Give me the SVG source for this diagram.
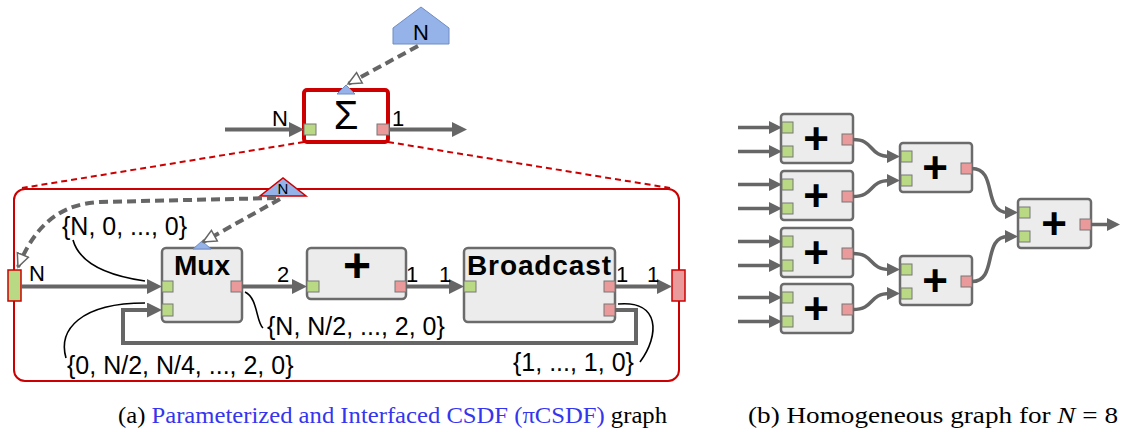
<svg xmlns="http://www.w3.org/2000/svg" width="1123" height="432" viewBox="0 0 1123 432">
<style>
.t{font-family:"Liberation Sans",Arial,sans-serif;fill:#000}
.lbl{font-size:22px}
.rate{font-size:25px}
.ttl{font-size:28px;font-weight:bold;text-anchor:middle}
.plusA{font-size:48px;font-weight:bold;text-anchor:middle}
.plusB{font-size:44px;font-weight:bold;text-anchor:middle}
.box{fill:#ececec;stroke:#6b6b6b;stroke-width:2.5}
.pin{fill:#bad984;stroke:#777;stroke-width:1}
.pout{fill:#ea9a9a;stroke:#777;stroke-width:1}
.edge{fill:none;stroke:#666;stroke-width:4;stroke-linejoin:miter}
.edgeB{fill:none;stroke:#666;stroke-width:3.5}
.dash{fill:none;stroke:#666;stroke-width:4;stroke-dasharray:9 5}
.note{fill:none;stroke:#000;stroke-width:1.6}
.reddash{fill:none;stroke:#cc0000;stroke-width:2;stroke-dasharray:6 4}
.param{fill:#95b3e9;stroke:#6f8cc2;stroke-width:1}
.cap{font-family:"Liberation Serif","Times New Roman",serif;font-size:24px;fill:#000}
</style>
<defs>
<marker id="ah" viewBox="0 0 15 15" refX="5" refY="7.5" markerWidth="15" markerHeight="15" markerUnits="userSpaceOnUse" orient="auto"><path d="M0,0 L15,7.5 L0,15 z" fill="#666"/></marker>
<marker id="ahs" viewBox="0 0 13 13" refX="3" refY="6.5" markerWidth="13" markerHeight="13" markerUnits="userSpaceOnUse" orient="auto"><path d="M0,0 L13,6.5 L0,13 z" fill="#666"/></marker>
<marker id="hollow" viewBox="0 0 16 16" refX="14" refY="8" markerWidth="16" markerHeight="16" markerUnits="userSpaceOnUse" orient="auto"><path d="M1,2 L14,8 L1,14 z" fill="#fff" stroke="#666" stroke-width="1.5"/></marker>
</defs>
<rect width="1123" height="432" fill="#fff"/>

<!-- (a) top-level Sigma actor -->
<g id="param-N-top">
<polygon class="param" points="393,28 421,7 449,28 449,44 393,44" stroke="#7d8fb0"/>
<text class="t" x="421" y="40" font-size="22" text-anchor="middle">N</text>
</g>
<g id="sigma">
<rect x="304" y="90" width="84" height="52" rx="3" fill="#fff" stroke="#cc0000" stroke-width="4"/>
<polygon class="param" points="337,94 355,94 346,85"/>
<text class="t" x="346" y="129" font-size="40" text-anchor="middle">Σ</text>
<rect class="pin" x="304" y="124" width="12" height="11"/>
<rect class="pout" x="377" y="124" width="12" height="11"/>
</g>

<!-- (a) sub-graph frame -->
<g id="subgraph">
<rect x="14" y="189" width="665" height="192" rx="11" fill="none" stroke="#cc0000" stroke-width="2"/>
<rect x="8" y="270" width="13" height="31" fill="#bad984" stroke="#cc0000" stroke-width="1.5"/>
<rect x="672" y="270" width="13" height="31" fill="#ea9a9a" stroke="#cc0000" stroke-width="1.5"/>
</g>
<g id="param-N-if">
<polygon points="260,196 306,196 283,178" fill="#95b3e9" stroke="#cc0000" stroke-width="1.5"/>
<text class="t" x="283" y="194" font-size="15" text-anchor="middle">N</text>
</g>

<g id="mux">
<rect class="box" x="162" y="248" width="80" height="74" rx="4"/>
<polygon class="param" points="193,249 211,249 202,241"/>
<text class="t ttl" x="202" y="275" font-size="29">Mux</text>
<rect class="pin" x="162" y="281" width="11" height="11"/>
<rect class="pin" x="162" y="304" width="11" height="12"/>
<rect class="pout" x="231" y="281" width="11" height="11"/>
</g>
<g id="add">
<rect class="box" x="307" y="248" width="99" height="51" rx="4"/>
<text class="t plusA" x="357" y="282">+</text>
<rect class="pin" x="307" y="281" width="12" height="11"/>
<rect class="pout" x="395" y="281" width="11" height="11"/>
</g>
<g id="broadcast">
<rect class="box" x="464" y="248" width="151" height="74" rx="4"/>
<text class="t ttl" x="539" y="275" textLength="144">Broadcast</text>
<rect class="pin" x="464" y="281" width="12" height="11"/>
<rect class="pout" x="604" y="281" width="11" height="11"/>
<rect class="pout" x="604" y="304" width="11" height="12"/>
</g>

<!-- (b) homogeneous graph -->
<g id="b-add-1"><rect class="box" x="781" y="114" width="72" height="49" rx="3"/><rect class="pin" x="782" y="122" width="11" height="11"/><rect class="pin" x="782" y="146" width="11" height="11"/><rect class="pout" x="842" y="134" width="11" height="11"/><text class="t plusB" x="816" y="154">+</text></g>
<g id="b-add-2"><rect class="box" x="781" y="171" width="72" height="49" rx="3"/><rect class="pin" x="782" y="179" width="11" height="11"/><rect class="pin" x="782" y="203" width="11" height="11"/><rect class="pout" x="842" y="191" width="11" height="11"/><text class="t plusB" x="816" y="211">+</text></g>
<g id="b-add-3"><rect class="box" x="781" y="228" width="72" height="49" rx="3"/><rect class="pin" x="782" y="236" width="11" height="11"/><rect class="pin" x="782" y="260" width="11" height="11"/><rect class="pout" x="842" y="248" width="11" height="11"/><text class="t plusB" x="816" y="268">+</text></g>
<g id="b-add-4"><rect class="box" x="781" y="284" width="72" height="49" rx="3"/><rect class="pin" x="782" y="292" width="11" height="11"/><rect class="pin" x="782" y="316" width="11" height="11"/><rect class="pout" x="842" y="304" width="11" height="11"/><text class="t plusB" x="816" y="324">+</text></g>
<g id="b-add-5"><rect class="box" x="900" y="143" width="72" height="49" rx="3"/><rect class="pin" x="901" y="151" width="11" height="11"/><rect class="pin" x="901" y="175" width="11" height="11"/><rect class="pout" x="961" y="163" width="11" height="11"/><text class="t plusB" x="935" y="183">+</text></g>
<g id="b-add-6"><rect class="box" x="900" y="256" width="72" height="49" rx="3"/><rect class="pin" x="901" y="264" width="11" height="11"/><rect class="pin" x="901" y="288" width="11" height="11"/><rect class="pout" x="961" y="276" width="11" height="11"/><text class="t plusB" x="935" y="296">+</text></g>
<g id="b-add-7"><rect class="box" x="1018" y="199" width="73" height="49" rx="3"/><rect class="pin" x="1019" y="207" width="11" height="11"/><rect class="pin" x="1019" y="231" width="11" height="11"/><rect class="pout" x="1080" y="219" width="11" height="11"/><text class="t plusB" x="1054" y="239">+</text></g>

<g id="connectors">
<path class="reddash" d="M304 142 L22 188"/>
<path class="reddash" d="M388 142 L670 188"/>
<path class="dash" d="M418 46 L348 84" marker-end="url(#hollow)"/>
<path class="dash" d="M280 199 L203 242" marker-end="url(#hollow)"/>
<path class="dash" d="M276 198 L100 202 C60 204 35 225 18 267" marker-end="url(#hollow)"/>
<path class="edge" d="M225 129.5 H294" marker-end="url(#ah)"/>
<path class="edge" d="M389 129.5 H457" marker-end="url(#ah)"/>
<path class="edge" d="M21 286.5 H152" marker-end="url(#ah)"/>
<path class="edge" d="M242 286.5 H297" marker-end="url(#ah)"/>
<path class="edge" d="M406 286.5 H454" marker-end="url(#ah)"/>
<path class="edge" d="M615 286.5 H662" marker-end="url(#ah)"/>
<path class="edge" d="M615 310 H636 V343 H123 V310 H152" marker-end="url(#ah)"/>
<path class="note" d="M73 240 C80 265 110 276 145 281"/>
<path class="note" d="M245 292 C258 298 256 322 263 328"/>
<path class="note" d="M66 358 C58 330 80 303 145 303"/>
<path class="note" d="M640 362 C660 335 660 300 618 304"/>

<path class="edgeB" d="M738 127.5 H772" marker-end="url(#ahs)"/>
<path class="edgeB" d="M738 151.5 H772" marker-end="url(#ahs)"/>
<path class="edgeB" d="M738 184.5 H772" marker-end="url(#ahs)"/>
<path class="edgeB" d="M738 208.5 H772" marker-end="url(#ahs)"/>
<path class="edgeB" d="M738 241.5 H772" marker-end="url(#ahs)"/>
<path class="edgeB" d="M738 265.5 H772" marker-end="url(#ahs)"/>
<path class="edgeB" d="M738 297.5 H772" marker-end="url(#ahs)"/>
<path class="edgeB" d="M738 321.5 H772" marker-end="url(#ahs)"/>
<path class="edgeB" d="M853 139.5 C875 139.5 868 156.5 890 156.5" marker-end="url(#ahs)"/>
<path class="edgeB" d="M853 196.5 C875 196.5 868 180.5 890 180.5" marker-end="url(#ahs)"/>
<path class="edgeB" d="M853 253.5 C875 253.5 868 269.5 890 269.5" marker-end="url(#ahs)"/>
<path class="edgeB" d="M853 309.5 C875 309.5 868 293.5 890 293.5" marker-end="url(#ahs)"/>
<path class="edgeB" d="M972 168.5 C998 168.5 982 212.5 1008 212.5" marker-end="url(#ahs)"/>
<path class="edgeB" d="M972 281.5 C998 281.5 982 236.5 1008 236.5" marker-end="url(#ahs)"/>
<path class="edgeB" d="M1091 224.5 H1110" marker-end="url(#ahs)"/>
</g>

<g id="labels">
<text class="t lbl" x="272" y="126">N</text>
<text class="t lbl" x="392" y="126">1</text>
<text class="t lbl" x="29" y="281">N</text>
<text class="t lbl" x="277" y="282">2</text>
<text class="t lbl" x="406" y="282">1</text>
<text class="t lbl" x="439" y="282">1</text>
<text class="t lbl" x="616" y="282">1</text>
<text class="t lbl" x="647" y="282">1</text>
<text class="t rate" x="62" y="235">{N, 0, ..., 0}</text>
<text class="t rate" x="267" y="335">{N, N/2, ..., 2, 0}</text>
<text class="t rate" x="67" y="374">{0, N/2, N/4, ..., 2, 0}</text>
<text class="t rate" x="513" y="371">{1, ..., 1, 0}</text>
</g>

<g id="captions">
<text class="cap" x="118" y="423" textLength="549" lengthAdjust="spacingAndGlyphs">(a) <tspan fill="#3535ee">Parameterized and Interfaced CSDF (πCSDF)</tspan> graph</text>
<text class="cap" x="748" y="423" textLength="370" lengthAdjust="spacingAndGlyphs">(b) Homogeneous graph for <tspan font-style="italic">N</tspan> = 8</text>
</g>
</svg>
